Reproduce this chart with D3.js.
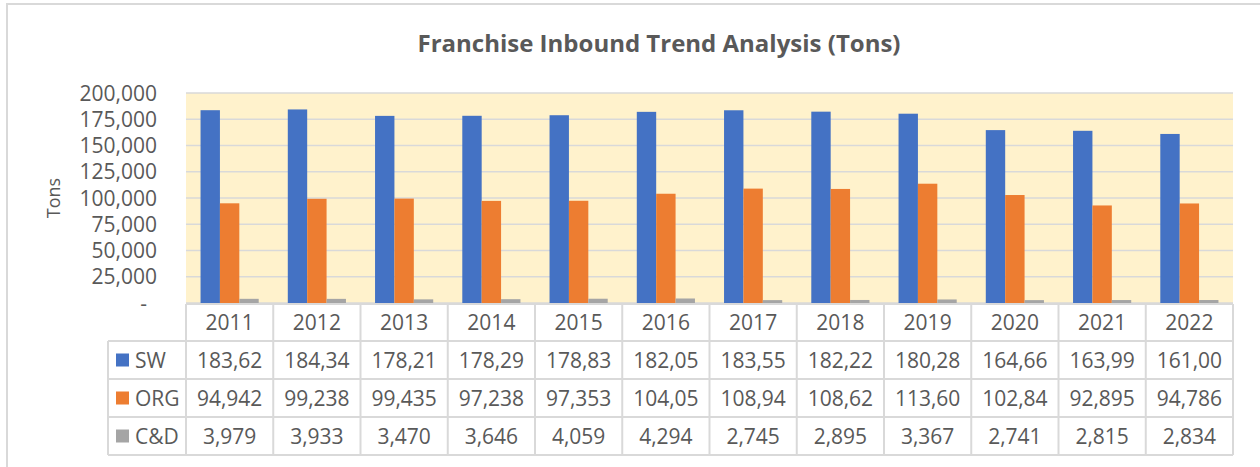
<!DOCTYPE html>
<html>
<head>
<meta charset="utf-8">
<script src="https://cdn.jsdelivr.net/npm/d3@7"></script>
<style>
  body { margin: 0; background: #fff; }
  svg text { font-family: "Open Sans", sans-serif; fill: #595959; }
</style>
</head>
<body>
<svg id="chart" width="1260" height="467"></svg>
<script>
var years = ["2011", "2012", "2013", "2014", "2015", "2016", "2017", "2018", "2019", "2020", "2021", "2022"];
var seriesNames = ["SW", "ORG", "C&D"];
var swValues = [183620, 184340, 178210, 178290, 178830, 182050, 183550, 182220, 180280, 164660, 163990, 161000];
var orgValues = [94942, 99238, 99435, 97238, 97353, 104050, 108940, 108620, 113600, 102840, 92895, 94786];
var cdValues = [3979, 3933, 3470, 3646, 4059, 4294, 2745, 2895, 3367, 2741, 2815, 2834];
var yTicks = [0, 25000, 50000, 75000, 100000, 125000, 150000, 175000, 200000];
var colors = ["#4472C4", "#ED7D31", "#A5A5A5"];

var allValues = [swValues, orgValues, cdValues];

var svg = d3.select("#chart");
var plotLeft = 186, plotRight = 1233, plotTop = 93, plotBottom = 303;
var gridColor = "#D9D9D9";

// outer chart border
svg.append("rect")
    .attr("x", 7).attr("y", 4)
    .attr("width", 1270).attr("height", 480)
    .attr("fill", "none")
    .attr("stroke", gridColor)
    .attr("stroke-width", 2);

svg.append("text")
    .attr("x", 659).attr("y", 52)
    .attr("text-anchor", "middle")
    .style("font-size", "24px")
    .style("font-weight", "bold")
    .text("Franchise Inbound Trend Analysis (Tons)");

var x = d3.scaleBand().domain(years).range([plotLeft, plotRight]).paddingInner(1 / 3).paddingOuter(1 / 6);
var xs = d3.scaleBand().domain(seriesNames).range([0, x.bandwidth()]);
var y = d3.scaleLinear().domain([0, 200000]).range([plotBottom, plotTop]);

svg.append("rect")
    .attr("x", plotLeft).attr("y", plotTop)
    .attr("width", plotRight - plotLeft).attr("height", plotBottom - plotTop)
    .attr("fill", "#FFF2CC");

svg.selectAll(".grid")
    .data(yTicks)
    .enter().append("line")
    .attr("x1", plotLeft).attr("x2", plotRight)
    .attr("y1", function(d) { return y(d); })
    .attr("y2", function(d) { return y(d); })
    .attr("stroke", gridColor)
    .attr("stroke-width", 1.5);

// y labels
var fmt = d3.format(",");
svg.selectAll(".ylab")
    .data(yTicks)
    .enter().append("text")
    .attr("x", function(d) { return d === 0 ? 147 : 157; })
    .attr("y", function(d) { return y(d) + 7.5; })
    .attr("text-anchor", "end")
    .style("font-size", "21px")
    .text(function(d) { return d === 0 ? "-" : fmt(d); });

svg.append("text")
    .attr("transform", "translate(60,198) rotate(-90)")
    .attr("text-anchor", "middle")
    .style("font-size", "18px")
    .text("Tons");

// bars
allValues.forEach(function(vals, s) {
    svg.append("g").selectAll("rect")
        .data(vals)
        .enter().append("rect")
        .attr("x", function(d, i) { return x(years[i]) + xs(seriesNames[s]); })
        .attr("y", function(d) { return y(d); })
        .attr("width", xs.bandwidth())
        .attr("height", function(d) { return y(0) - y(d); })
        .attr("fill", colors[s]);
});

// data table
var rowTop = [304, 341, 379, 417, 455];
var legLeft = 108;
var tbl = svg.append("g").attr("stroke", gridColor).attr("stroke-width", 2);

rowTop.forEach(function(r, i) {
    tbl.append("line")
        .attr("x1", i === 0 ? plotLeft : legLeft).attr("x2", plotRight)
        .attr("y1", r).attr("y2", r);
});
years.forEach(function(yr) {
    var xx = x(yr) - x.step() * x.paddingInner() / 2;
    tbl.append("line").attr("x1", xx).attr("x2", xx).attr("y1", rowTop[0]).attr("y2", rowTop[4]);
});
tbl.append("line").attr("x1", plotRight).attr("x2", plotRight).attr("y1", rowTop[0]).attr("y2", rowTop[4]);
tbl.append("line").attr("x1", legLeft).attr("x2", legLeft).attr("y1", rowTop[1]).attr("y2", rowTop[4]);

function cx(yr) { return x(yr) + x.bandwidth() / 2; }

svg.selectAll(".yr")
    .data(years)
    .enter().append("text")
    .attr("x", cx)
    .attr("y", (rowTop[0] + rowTop[1]) / 2 + 7.5)
    .attr("text-anchor", "middle")
    .style("font-size", "21px")
    .text(function(d) { return d; });

allValues.forEach(function(vals, s) {
    var mid = (rowTop[s + 1] + rowTop[s + 2]) / 2;
    svg.append("rect")
        .attr("x", 116).attr("y", mid - 6.5)
        .attr("width", 13).attr("height", 13)
        .attr("fill", colors[s]);
    svg.append("text")
        .attr("x", 135).attr("y", mid + 7.5)
        .style("font-size", "21px")
        .text(seriesNames[s]);
    svg.append("g").selectAll("text")
        .data(vals)
        .enter().append("text")
        .attr("x", function(d, i) { return cx(years[i]); })
        .attr("y", mid + 7.5)
        .attr("text-anchor", "middle")
        .style("font-size", "21px")
        .text(function(d) { return fmt(d).slice(0, 6); });
});
</script>
</body>
</html>
